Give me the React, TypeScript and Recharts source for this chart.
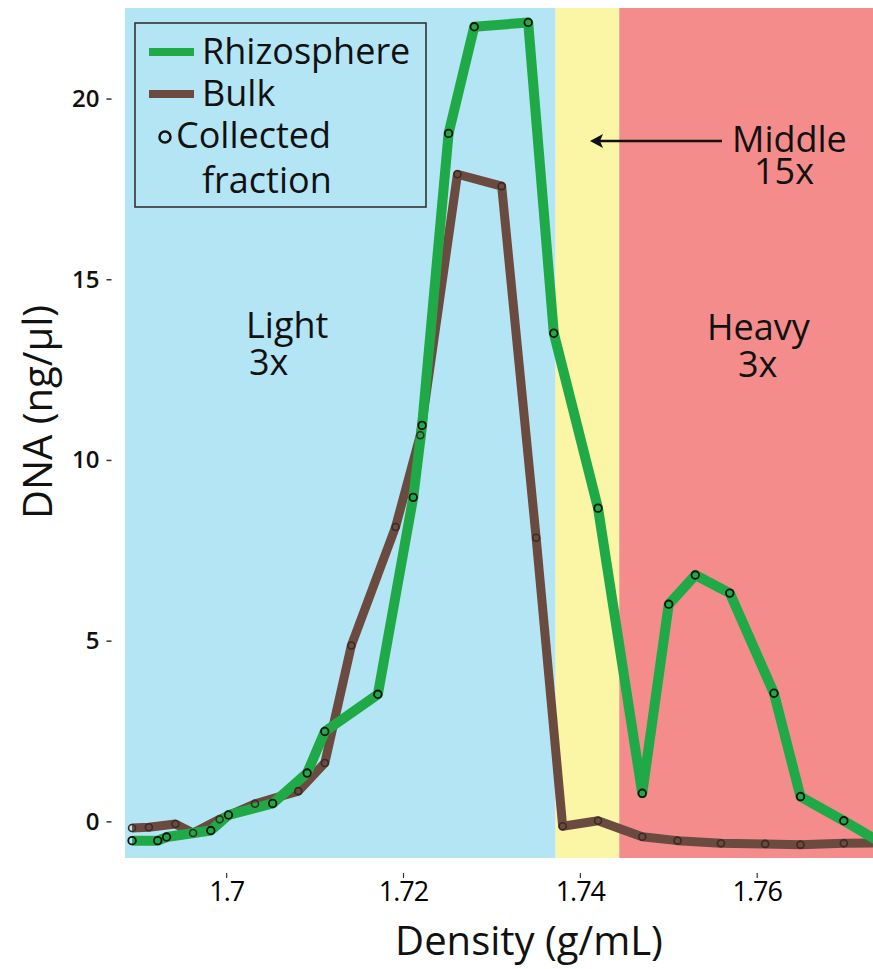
import { ComposedChart, Line, XAxis, YAxis, ReferenceArea } from 'recharts';

// density (g/mL) and DNA (ng/µl) per collected fraction
const rhizoDensity = [1.6893, 1.6922, 1.6932, 1.6982, 1.7002, 1.7052, 1.7091, 1.7111, 1.7171, 1.7211, 1.7221, 1.7251, 1.728, 1.7341, 1.737, 1.742, 1.747, 1.75, 1.753, 1.7569, 1.7619, 1.7649, 1.7698, 1.7748];
const rhizoDna = [-0.52, -0.52, -0.42, -0.24, 0.19, 0.51, 1.35, 2.5, 3.53, 8.98, 10.97, 19.05, 22.0, 22.12, 13.52, 8.68, 0.79, 6.02, 6.83, 6.33, 3.56, 0.7, 0.03, -0.69];

const bulkDensity = [1.6893, 1.6912, 1.6942, 1.6962, 1.6992, 1.7032, 1.7081, 1.7111, 1.7141, 1.7191, 1.7219, 1.7261, 1.7311, 1.735, 1.738, 1.742, 1.747, 1.751, 1.7559, 1.7609, 1.7649, 1.7698, 1.7748];
const bulkDna = [-0.17, -0.15, -0.06, -0.31, 0.07, 0.5, 0.85, 1.63, 4.88, 8.16, 10.7, 17.92, 17.59, 7.86, -0.12, 0.03, -0.41, -0.52, -0.59, -0.61, -0.63, -0.59, -0.58];

const xTicks = [1.7, 1.72, 1.74, 1.76];
const yTicks = [0, 5, 10, 15, 20];
const xDomain = [1.6885, 1.7731];
const yDomain = [-1.0, 22.52];

// Light | Middle | Heavy
const regionBounds = [1.6885, 1.7372, 1.7444, 1.7731];
const regionColors = ['#b4e5f5', '#faf6a6', '#f48c8c'];

const rhizoData = rhizoDensity.map((d, i) => ({ density: d, dna: rhizoDna[i] }));
const bulkData = bulkDensity.map((d, i) => ({ density: d, dna: bulkDna[i] }));

const GREEN = '#1faa47';
const BROWN = '#6b4a3f';
const FONT = '"Open Sans", sans-serif';

const XTick = ({ x, y, payload }: any) => (
  <g>
    <line x1={x} x2={x} y1={y + 15} y2={y + 20} stroke="#333" strokeWidth={1.2} />
    <text x={x} y={y + 43} textAnchor="middle" fontFamily={FONT} fontSize={27} fontWeight={500} letterSpacing={-1} fill="#000">
      {payload.value}
    </text>
  </g>
);

const YTick = ({ x, y, payload }: any) => (
  <g>
    <line x1={x - 18.5} x2={x - 13.5} y1={y} y2={y} stroke="#333" strokeWidth={1.5} />
    <text x={x - 25.5} y={y + 8} textAnchor="end" fontFamily={FONT} fontSize={24} fontWeight={600} fill="#111">
      {payload.value}
    </text>
  </g>
);

// two-line label kept in one text element
const TwoLine = ({ x1, y1, t1, x2, y2, t2 }: any) => (
  <text fontSize={36}>
    <tspan x={x1} y={y1}>{t1}</tspan>
    <tspan x={x2} y={y2}>{t2}</tspan>
  </text>
);

const Overlay = () => (
  <svg width={873} height={969} style={{ position: 'absolute', left: 0, top: 0, pointerEvents: 'none' }}>
    <g fontFamily={FONT} fill="#111">
      {/* legend */}
      <rect x={135} y={23} width={291} height={184} fill="none" stroke="#333" strokeWidth={1.6} />
      <rect x={149} y={48} width={45} height={8} fill={GREEN} />
      <rect x={149} y={90} width={45} height={8} fill={BROWN} />
      <circle cx={165} cy={137} r={5.5} fill="none" stroke="#111" strokeWidth={2.5} />
      <text fontSize={36}>
        <tspan x={202} y={64}>Rhizosphere</tspan>
        <tspan x={202} y={106}>Bulk</tspan>
        <tspan x={176} y={148}>Collected</tspan>
        <tspan x={202} y={193}>fraction</tspan>
      </text>

      {/* region labels */}
      <TwoLine x1={246} y1={338} t1="Light" x2={249} y2={375} t2="3x" />
      <TwoLine x1={732} y1={152} t1="Middle" x2={754} y2={184} t2="15x" />
      <TwoLine x1={707} y1={340} t1="Heavy" x2={738} y2={377} t2="3x" />

      {/* axis titles */}
      <text x={529} y={955} fontSize={40} textAnchor="middle">Density (g/mL)</text>
      <text x={0} y={0} fontSize={40} textAnchor="middle" transform="translate(52 412) rotate(-90)">DNA (ng/µl)</text>
    </g>
    <line x1={600} x2={722} y1={141} y2={141} stroke="#111" strokeWidth={2.5} />
    <path d="M590 141 L603 134 L600 141 L603 148 Z" fill="#111" />
  </svg>
);

export default function App() {
  return (
    <div style={{ position: 'absolute', left: 0, top: 0, width: 873, height: 969, background: '#fff' }}>
      <ComposedChart width={873} height={969} margin={{ top: 8, right: 0, left: 0, bottom: 0 }}>
        {regionColors.map((c, i) => (
          <ReferenceArea
            key={c}
            x1={regionBounds[i]}
            x2={regionBounds[i + 1]}
            fill={c}
            fillOpacity={1}
            stroke="none"
            ifOverflow="hidden"
          />
        ))}
        <XAxis
          dataKey="density"
          type="number"
          domain={xDomain}
          ticks={xTicks}
          allowDataOverflow
          axisLine={false}
          tickLine={false}
          tickSize={0}
          tickMargin={0}
          height={111}
          tick={<XTick />}
          interval={0}
        />
        <YAxis
          dataKey="dna"
          type="number"
          domain={yDomain}
          ticks={yTicks}
          allowDataOverflow
          axisLine={false}
          tickLine={false}
          tickSize={0}
          tickMargin={0}
          width={125}
          tick={<YTick />}
          interval={0}
        />
        <Line
          data={bulkData}
          dataKey="dna"
          type="linear"
          stroke={BROWN}
          strokeWidth={9}
          strokeLinejoin="round"
          dot={{ r: 3.5, stroke: '#3a2a24', strokeWidth: 1.6, fill: 'none' }}
          isAnimationActive={false}
        />
        <Line
          data={rhizoData}
          dataKey="dna"
          type="linear"
          stroke={GREEN}
          strokeWidth={10}
          strokeLinejoin="round"
          dot={{ r: 3.8, stroke: '#111', strokeWidth: 1.8, fill: 'none' }}
          isAnimationActive={false}
        />
      </ComposedChart>
      <Overlay />
    </div>
  );
}
